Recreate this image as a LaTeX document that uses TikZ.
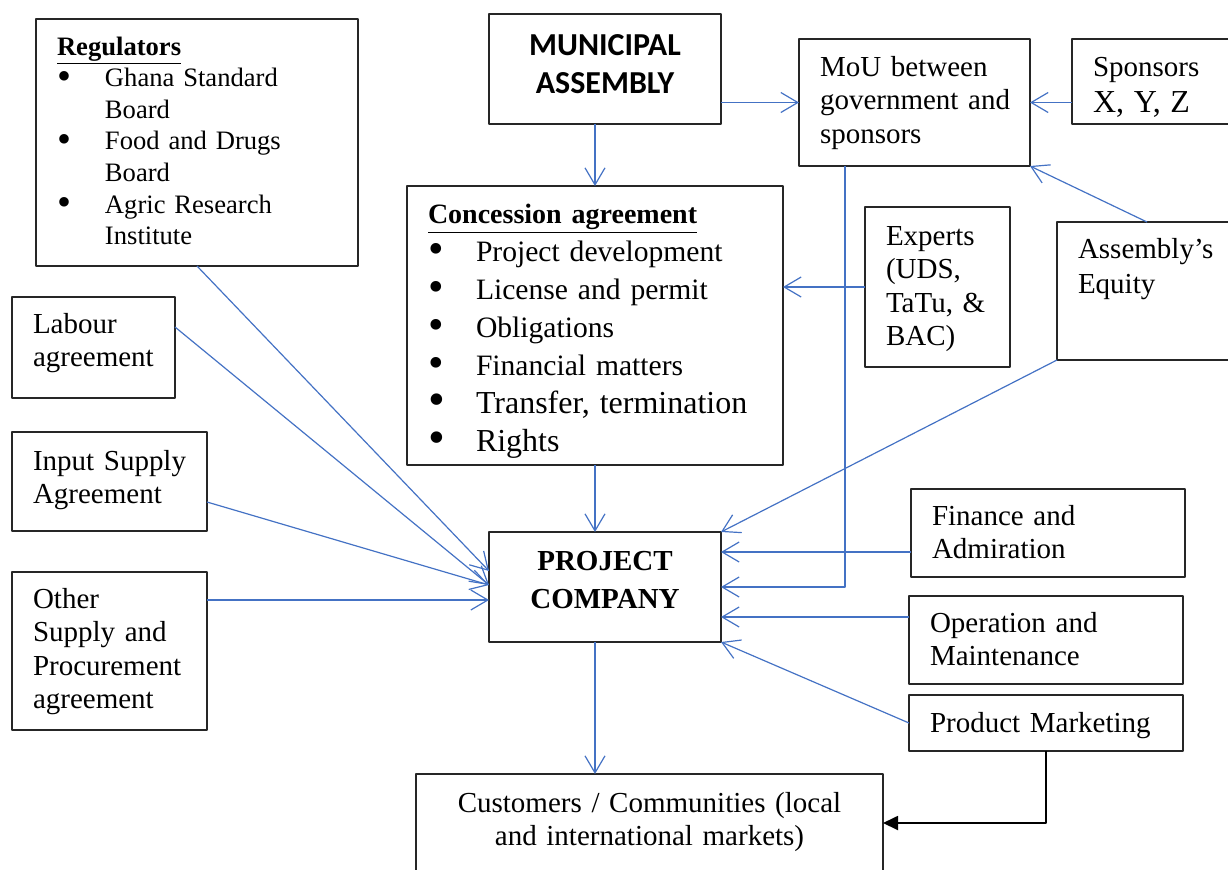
\documentclass[tikz,border=0pt]{standalone}
\usepackage{fontspec}
\usepackage{graphicx}
\setmainfont{Liberation Serif}
\newfontfamily\calibri{Carlito}
\usetikzlibrary{arrows.meta}
\definecolor{lineblue}{HTML}{4472C4}
\newcommand{\itm}[1]{\makebox[24pt][l]{\smash{\raisebox{-1.3pt}{\scalebox{1.5}{\textbullet}}}}#1}
\newcommand{\itmgap}{\hspace*{24pt}}
\begin{document}
\begin{tikzpicture}[x=0.5pt,y=-0.5pt,line join=round,
	frame/.style n args={3}{draw=black!85,line width=0.7pt,anchor=north west,outer sep=0pt,
		inner xsep=0pt,inner ysep=0pt,font=\fontsize{14.5}{16.75}\selectfont,
		text width=#1*0.5pt,text height=#3*0.5pt,text depth=(#2-#3)*0.5pt},
	box/.style n args={3}{frame={#1}{#2}{#3},align=left,
		execute at begin node={\leftskip=10.5pt\hyphenpenalty=10000}},
	cbox/.style n args={3}{frame={#1}{#2}{#3},align=center},
	arr/.style={draw=lineblue,line width=0.6pt,-{Straight Barb[length=8.5pt,width=10pt]}}]
		%==Khung hình
		\useasboundingbox (0,0) rectangle (1228,869);
		\clip (0,0) rectangle (1228,869);
		%==Các ô
		\node[box={322}{247}{36},font=\fontsize{13.3}{15.8}\selectfont] (reg) at (36,19)
		{\textbf{\underline{Regulators}}\\ \itm{Ghana Standard}\\ \itmgap Board\\
		\itm{Food and Drugs}\\ \itmgap Board\\ \itm{Agric Research}\\ \itmgap Institute};
		\node[cbox={232}{110}{41},font=\calibri\bfseries\fontsize{16}{19}\selectfont] (mun) at (489,14)
		{MUNICIPAL\\ASSEMBLY};
		\node[box={231}{127}{37}] (mou) at (799,39) {MoU between\\government and\\sponsors};
		\node[box={170}{85}{37},font=\fontsize{14.5}{18}\selectfont] (spo) at (1072,39)
		{Sponsors\\{\fontsize{16}{18}\selectfont X, Y, Z}};
		\node[box={376}{279}{37},font=\fontsize{14.8}{19}\selectfont] (con) at (407,186)
		{{\fontsize{14}{19}\selectfont\textbf{\underline{Concession agreement}}}\\
		\itm{Project development}\\ \itm{License and permit}\\ \itm{Obligations}\\
		\itm{Financial matters}\\ {\fontsize{16}{19}\selectfont\itm{Transfer, termination}}\\
		{\fontsize{16}{19}\selectfont\itm{Rights}}};
		\node[box={145}{160}{38}] (exp) at (865,207) {Experts\\(UDS,\\TaTu, \&\\BAC)};
		\node[box={180}{138}{36},font=\fontsize{14.5}{17.5}\selectfont] (equ) at (1057,222) {Assembly's\\Equity};
		\node[box={163}{101}{36}] (lab) at (12,297) {Labour\\agreement};
		\node[box={195}{99}{38}] (inp) at (12,432) {Input Supply\\Agreement};
		\node[box={195}{158}{36}] (oth) at (12,572) {Other\\Supply and\\Procurement\\agreement};
		\node[cbox={232}{110}{38},font=\bfseries\fontsize{14.5}{19}\selectfont] (pc) at (489,532)
		{PROJECT\\COMPANY};
		\node[box={274}{88}{36}] (fin) at (911,489) {Finance and\\Admiration};
		\node[box={274}{88}{36}] (ope) at (909,596) {Operation and\\Maintenance};
		\node[box={274}{56}{37}] (mkt) at (909,695) {Product Marketing};
		\node[cbox={467}{98}{38}] (cus) at (416,774)
		{Customers / Communities (local\\and international markets)};
		%==Điểm đến trên ô Project Company
		\path ([yshift=8pt]pc.west)coordinate(P1)
		([yshift=1pt]pc.west)coordinate(P2)
		([yshift=-6.5pt]pc.west)coordinate(P3)
		([yshift=17.5pt]pc.east)coordinate(Q1)
		([yshift=-15pt]pc.east)coordinate(Q2);
		%==Mũi tên
		\draw[arr] (mun.south -| con.north)--(con.north);
		\draw[arr] (con.south)--(con.south |- pc.north);
		\draw[arr] (pc.south -| con.south)--(cus.north -| con.south);
		\draw[arr] (mun.east |- mou.west)--(mou.west);
		\draw[arr] (spo.west |- mou.east)--(mou.east);
		\draw[arr] (equ.north)--(mou.south east);
		\draw[arr] (exp.west)--(exp.west -| con.east);
		\draw[arr] ([xshift=23pt]mou.south west) |- (pc.east);
		\draw[arr] (reg.south)--(P1);
		\draw[arr] ([yshift=10.25pt]lab.east)--(P2);
		\draw[arr] ([yshift=-10.25pt]inp.east)--(P2);
		\draw[arr] (oth.east |- P3)--(P3);
		\draw[arr] (equ.south west)--(pc.north east);
		\draw[arr] (fin.west |- Q1)--(Q1);
		\draw[arr] (ope.west |- Q2)--(Q2);
		\draw[arr] (mkt.west)--(pc.south east);
		\draw[line width=0.9pt,-{Triangle[length=7.5pt,width=7pt]}] (mkt.south) |- (cus.east);
\end{tikzpicture}
\end{document}
